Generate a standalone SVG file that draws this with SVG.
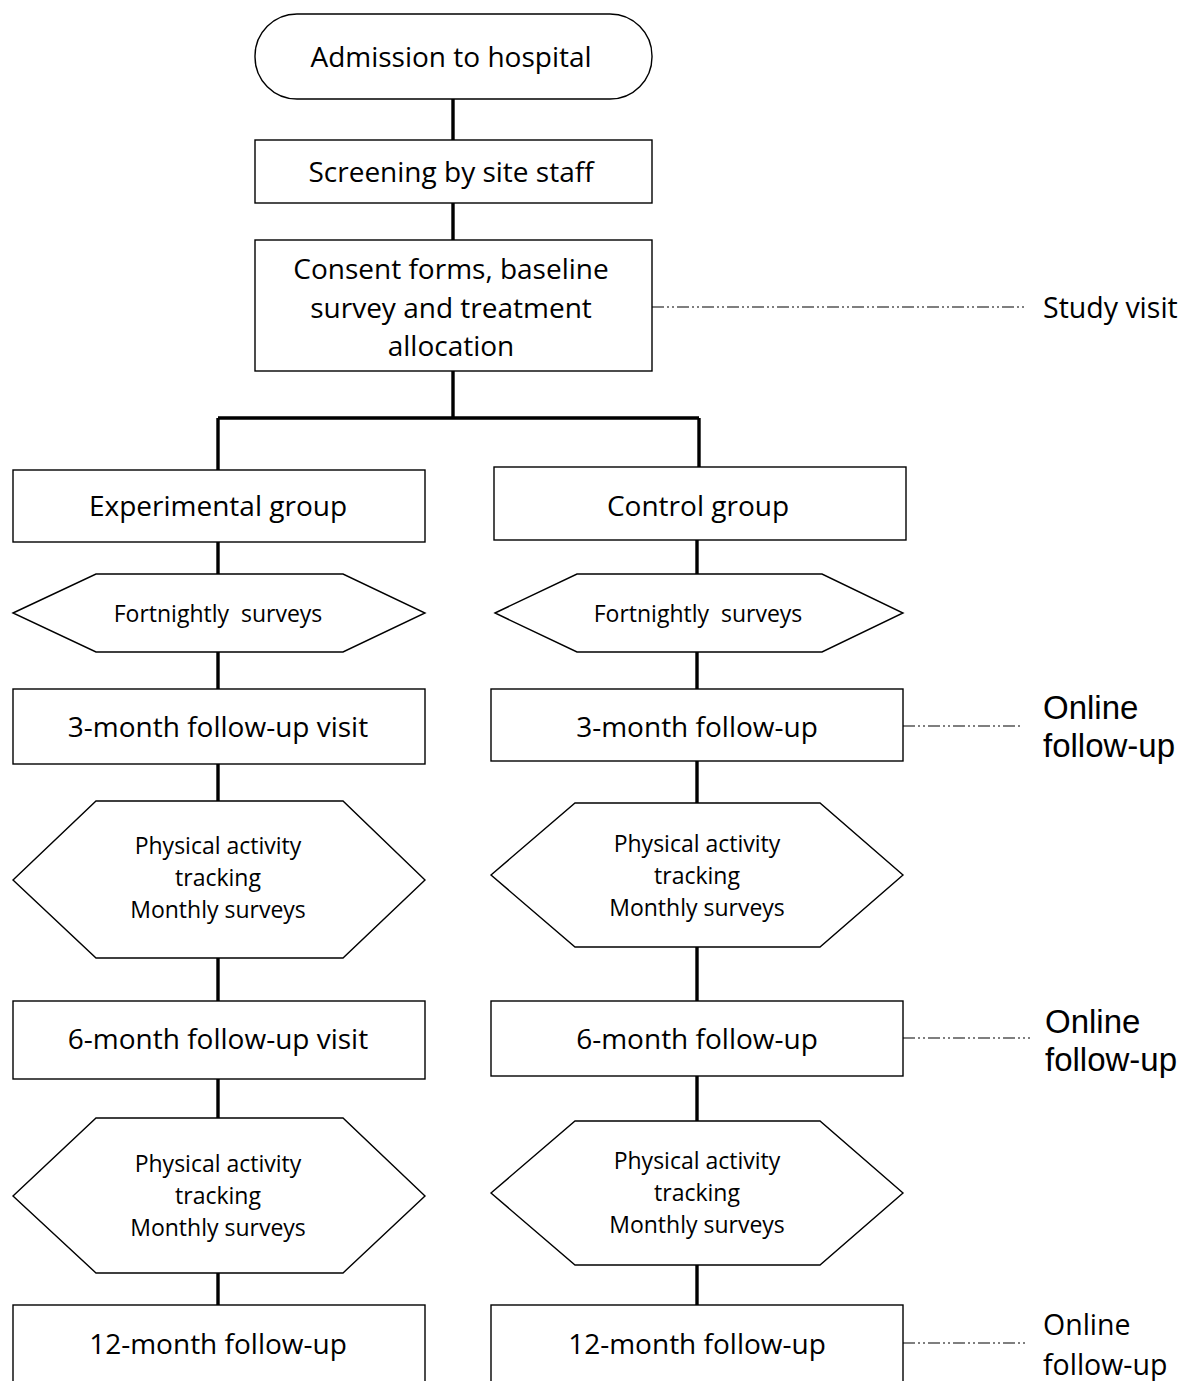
<svg xmlns="http://www.w3.org/2000/svg" width="1179" height="1381" viewBox="0 0 1179 1381">
<style>
.box{fill:#fff;stroke:#000;stroke-width:1.4}
.t{font-family:"Open Sans","Noto Sans",sans-serif;font-size:28px;fill:#000;text-anchor:middle;dominant-baseline:central}
.s{font-family:"Open Sans","Noto Sans",sans-serif;font-size:23px;fill:#000;text-anchor:middle;dominant-baseline:central}
.side{font-family:"Liberation Sans",Arial,sans-serif;font-size:33px;fill:#000;dominant-baseline:central}
.side2{font-family:"Open Sans","Noto Sans",sans-serif;font-size:28.5px;fill:#000;dominant-baseline:central}
.c{stroke:#000;stroke-width:3.4;fill:none}
.dd{stroke:#000;stroke-width:1.2;fill:none;stroke-dasharray:12 3 2 3 2 3}
</style>
<rect width="1179" height="1381" fill="#fff"/>
<g id="connectors">
<path class="c" d="M453 99V140M453 203V240M453 371V418M218 418H699M218 418V470M699 418V467"/>
<path class="c" d="M218 542V574M218 652V689M218 764V801M218 958V1001M218 1079V1118M218 1273V1305"/>
<path class="c" d="M697 540V574M697 652V689M697 761V803M697 947V1001M697 1076V1121M697 1265V1305"/>
<path class="dd" d="M652 307H1025M903 726H1022M903 1038H1030M903 1343H1025"/>
</g>
<g id="admission"><rect class="box" x="255" y="14" width="397" height="85" rx="42" ry="42"/><text class="t" x="451" y="56">Admission to hospital</text></g>
<g id="screening"><rect class="box" x="255" y="140" width="397" height="63"/><text class="t" x="451" y="171">Screening by site staff</text></g>
<g id="consent"><rect class="box" x="255" y="240" width="397" height="131"/><text class="t" x="451" y="268">Consent forms, baseline</text><text class="t" x="451" y="307">survey and treatment</text><text class="t" x="451" y="345">allocation</text></g>
<g id="study-visit"><text class="side2" x="1043" y="307">Study visit</text></g>
<g id="exp-group"><rect class="box" x="13" y="470" width="412" height="72"/><text class="t" x="218" y="505">Experimental group</text></g>
<g id="ctrl-group"><rect class="box" x="494" y="467" width="412" height="73"/><text class="t" x="698" y="505">Control group</text></g>
<g id="exp-fortnightly"><polygon class="box" points="13,613 96,574 343,574 425,613 343,652 96,652"/><text class="s" x="218" y="613" xml:space="preserve">Fortnightly  surveys</text></g>
<g id="ctrl-fortnightly"><polygon class="box" points="495,613 577,574 822,574 903,613 822,652 577,652"/><text class="s" x="698" y="613" xml:space="preserve">Fortnightly  surveys</text></g>
<g id="exp-3m"><rect class="box" x="13" y="689" width="412" height="75"/><text class="t" x="218" y="726">3-month follow-up visit</text></g>
<g id="ctrl-3m"><rect class="box" x="491" y="689" width="412" height="72"/><text class="t" x="697" y="726">3-month follow-up</text></g>
<g id="online-3m"><text class="side" x="1043" y="707">Online</text><text class="side" x="1043" y="745">follow-up</text></g>
<g id="exp-pa1"><polygon class="box" points="13,880 96,801 343,801 425,880 343,958 96,958"/><text class="s" x="218" y="845">Physical activity</text><text class="s" x="218" y="877">tracking</text><text class="s" x="218" y="909">Monthly surveys</text></g>
<g id="ctrl-pa1"><polygon class="box" points="491,875 575,803 820,803 903,875 820,947 575,947"/><text class="s" x="697" y="843">Physical activity</text><text class="s" x="697" y="875">tracking</text><text class="s" x="697" y="907">Monthly surveys</text></g>
<g id="exp-6m"><rect class="box" x="13" y="1001" width="412" height="78"/><text class="t" x="218" y="1038">6-month follow-up visit</text></g>
<g id="ctrl-6m"><rect class="box" x="491" y="1001" width="412" height="75"/><text class="t" x="697" y="1038">6-month follow-up</text></g>
<g id="online-6m"><text class="side" x="1045" y="1021">Online</text><text class="side" x="1045" y="1059">follow-up</text></g>
<g id="exp-pa2"><polygon class="box" points="13,1196 96,1118 343,1118 425,1196 343,1273 96,1273"/><text class="s" x="218" y="1163">Physical activity</text><text class="s" x="218" y="1195">tracking</text><text class="s" x="218" y="1227">Monthly surveys</text></g>
<g id="ctrl-pa2"><polygon class="box" points="491,1193 575,1121 820,1121 903,1193 820,1265 575,1265"/><text class="s" x="697" y="1160">Physical activity</text><text class="s" x="697" y="1192">tracking</text><text class="s" x="697" y="1224">Monthly surveys</text></g>
<g id="exp-12m"><rect class="box" x="13" y="1305" width="412" height="90"/><text class="t" x="218" y="1343">12-month follow-up</text></g>
<g id="ctrl-12m"><rect class="box" x="491" y="1305" width="412" height="90"/><text class="t" x="697" y="1343">12-month follow-up</text></g>
<g id="online-12m"><text class="side2" x="1043" y="1324">Online</text><text class="side2" x="1043" y="1364">follow-up</text></g>
</svg>
